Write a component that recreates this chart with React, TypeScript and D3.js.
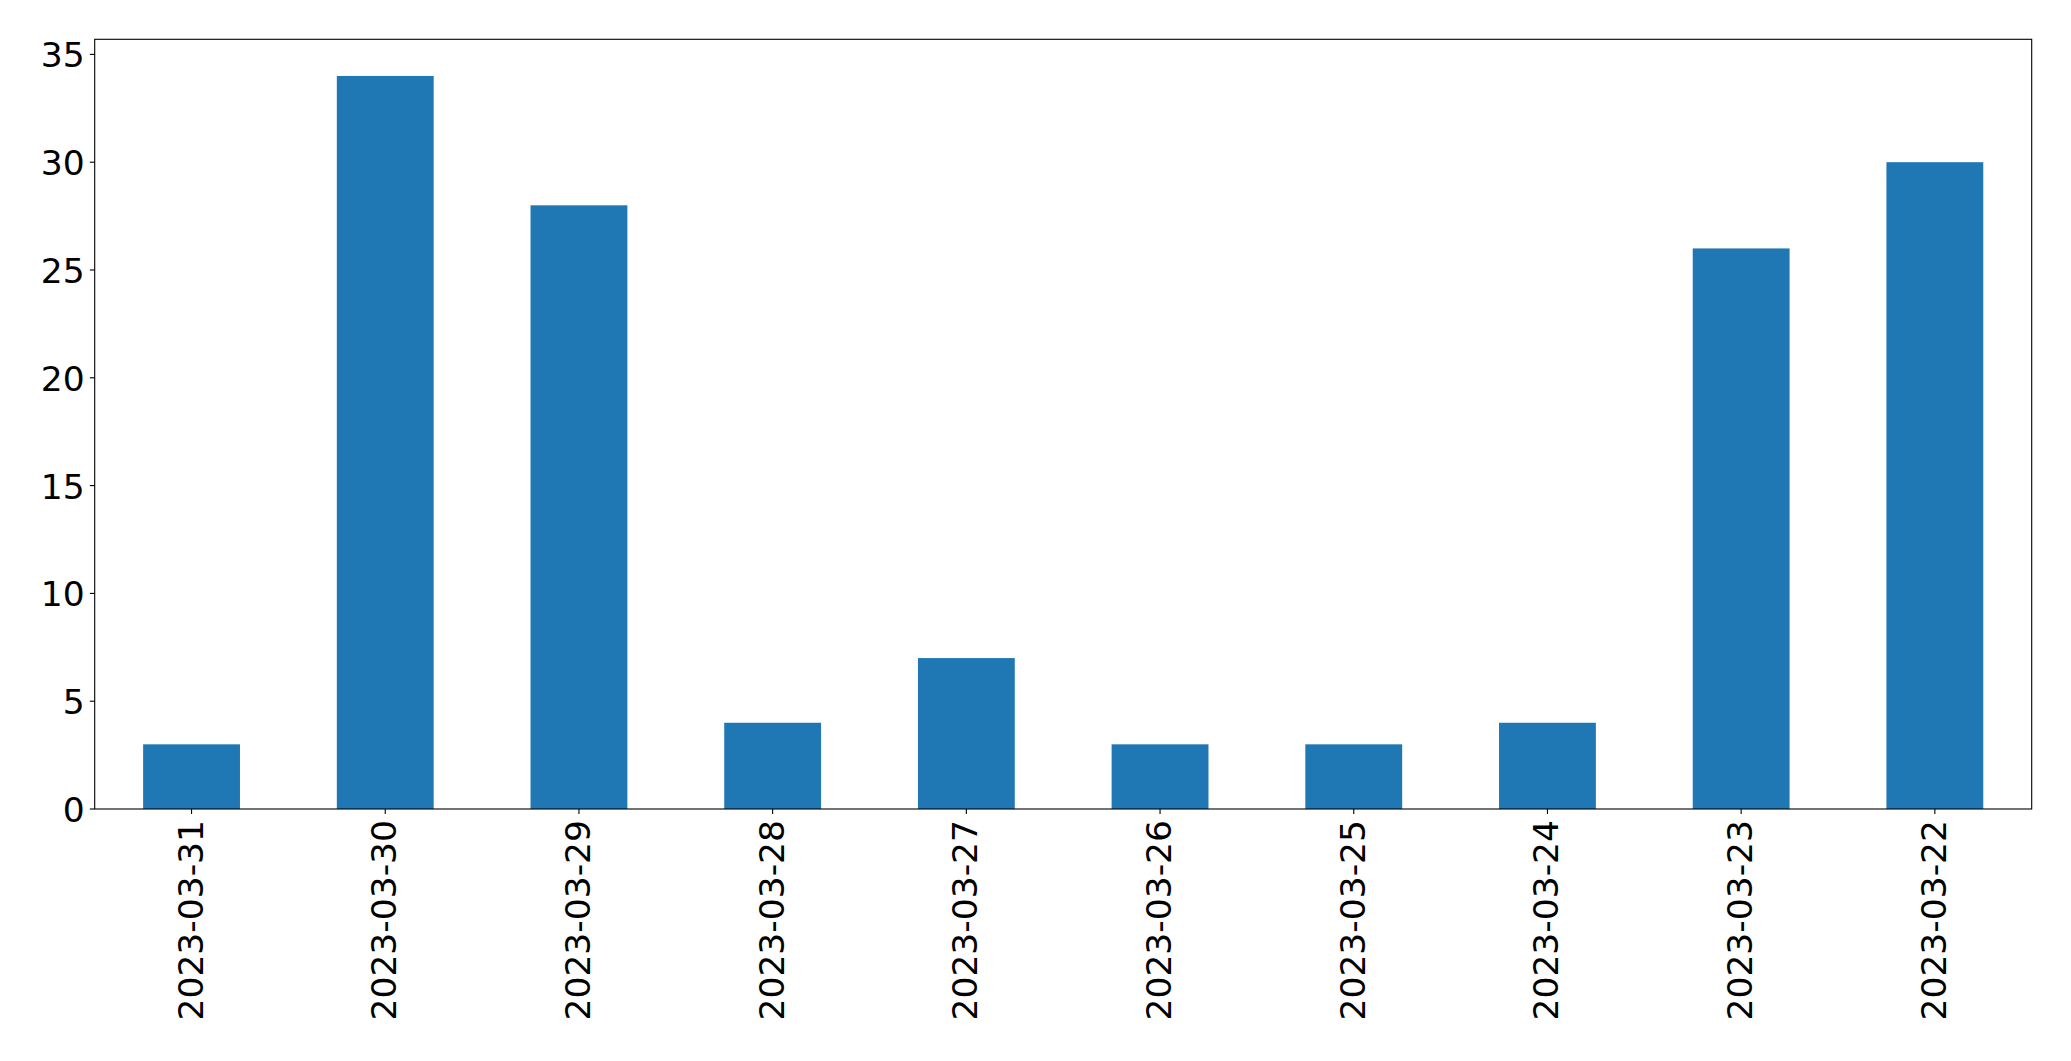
import React from "react";
import * as d3 from "d3";

const categories = ["2023-03-31","2023-03-30","2023-03-29","2023-03-28","2023-03-27","2023-03-26","2023-03-25","2023-03-24","2023-03-23","2023-03-22"];
const values = [3, 34, 28, 4, 7, 3, 3, 4, 26, 30];
const yTicks = [0, 5, 10, 15, 20, 25, 30, 35];

export default function App() {
  const W = 2071, H = 1061;
  const left = 94.7, right = 2031.7, top = 39.3, bottom = 809;
  const yMax = d3.max(values)! * 1.05;
  const y = d3.scaleLinear().domain([0, yMax]).range([bottom, top]);
  const x = d3.scaleLinear().domain([-0.5, categories.length - 0.5]).range([left, right]);
  const bw = 0.5;
  const font = "'DejaVu Sans', sans-serif";
  const fs = 34.5;
  return (
    <svg width={W} height={H} style={{ position: "absolute", left: 0, top: 0, display: "block", background: "#fff" }}>
      <rect x={0} y={0} width={W} height={H} fill="#fff" />
      {values.map((v, i) => (
        <rect key={i} x={x(i - bw / 2)} y={y(v)} width={x(i + bw / 2) - x(i - bw / 2)} height={y(0) - y(v)} fill="#1f77b4" />
      ))}
      <rect x={left} y={top} width={right - left} height={bottom - top} fill="none" stroke="#000" strokeWidth={1.1} />
      {yTicks.map((t) => (
        <g key={t}>
          <line x1={left - 4.9} x2={left} y1={y(t)} y2={y(t)} stroke="#000" strokeWidth={1.1} />
          <text x={left - 10} y={y(t) + 1} textAnchor="end" dominantBaseline="central" fontFamily={font} fontSize={fs} fill="#000">{t}</text>
        </g>
      ))}
      {categories.map((c, i) => (
        <g key={c}>
          <line x1={x(i)} x2={x(i)} y1={bottom} y2={bottom + 4.9} stroke="#000" strokeWidth={1.1} />
          <text transform={`translate(${x(i) - 1},${bottom + 11}) rotate(-90)`} textAnchor="end" dominantBaseline="central" fontFamily={font} fontSize={fs} fill="#000">{c}</text>
        </g>
      ))}
    </svg>
  );
}
